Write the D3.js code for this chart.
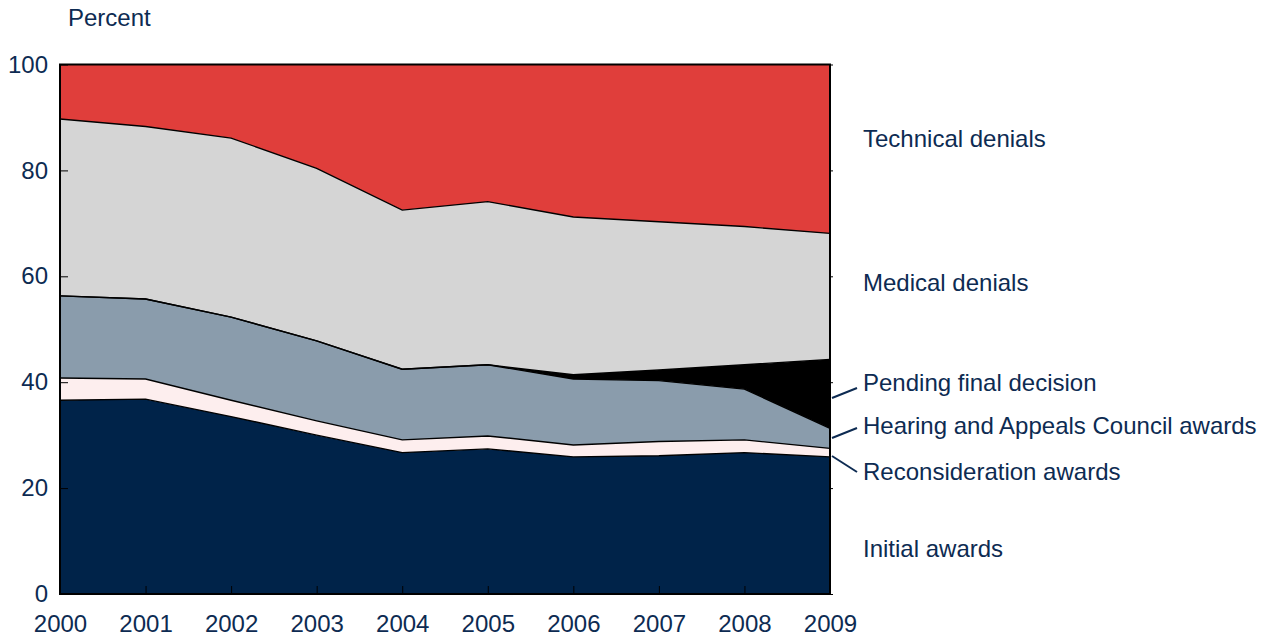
<!DOCTYPE html>
<html>
<head>
<meta charset="utf-8">
<script src="https://cdn.jsdelivr.net/npm/d3@7"></script>
<style>
  body { margin: 0; background: #fff; }
  svg { display: block; }
  text { font-family: "Liberation Sans", Arial, sans-serif; fill: #0d2b52; }
</style>
</head>
<body>
<svg id="chart" width="1268" height="637"></svg>
<script>
const years = [2000, 2001, 2002, 2003, 2004, 2005, 2006, 2007, 2008, 2009];
const initialAwards = [36.6, 36.8, 33.5, 30.0, 26.7, 27.4, 25.9, 26.1, 26.7, 25.9];
const reconsiderationAwards = [4.2, 3.8, 3.1, 2.7, 2.4, 2.45, 2.25, 2.7, 2.4, 1.6];
const hearingAwards = [15.5, 15.1, 15.7, 15.1, 13.35, 13.45, 12.45, 11.5, 9.6, 3.8];
const pendingDecision = [0, 0, 0, 0, 0, 0, 0.8, 2.0, 4.6, 13.0];
const medicalDenials = [33.4, 32.6, 33.8, 32.6, 30.05, 30.8, 29.8, 28.0, 26.1, 23.8];
const technicalDenials = [10.3, 11.7, 13.9, 19.6, 27.5, 25.9, 28.8, 29.7, 30.6, 31.9];
const yTicks = [0, 20, 40, 60, 80, 100];

const seriesKeys = ["initial", "recon", "hearing", "pending", "medical", "technical"];
const seriesData = {
  initial: initialAwards, recon: reconsiderationAwards, hearing: hearingAwards,
  pending: pendingDecision, medical: medicalDenials, technical: technicalDenials
};
const colors = {
  initial: "#002349", recon: "#fdeeee", hearing: "#8a9cac",
  pending: "#000000", medical: "#d5d5d5", technical: "#e03e3b"
};

const rows = years.map((yr, i) => {
  const r = { year: yr };
  seriesKeys.forEach(k => r[k] = seriesData[k][i]);
  return r;
});
const stacked = d3.stack().keys(seriesKeys)(rows);

const svg = d3.select("#chart");
const m = { left: 60, right: 830, top: 64.5, bottom: 594 };
const x = d3.scaleLinear().domain([2000, 2009]).range([m.left, m.right]);
const y = d3.scaleLinear().domain([0, 100]).range([m.bottom, m.top]);

const area = d3.area()
  .x(d => x(d.data.year))
  .y0(d => y(d[0]))
  .y1(d => y(Math.min(100, d[1])));
const line = d3.line()
  .x(d => x(d.data.year))
  .y(d => y(Math.min(100, d[1])));

svg.append("g").selectAll("path.area").data(stacked).join("path")
  .attr("class", "area")
  .attr("d", area)
  .attr("fill", d => colors[d.key]);

svg.append("g").selectAll("path.line").data(stacked.slice(0, 5)).join("path")
  .attr("d", line)
  .attr("fill", "none")
  .attr("stroke", "#000")
  .attr("stroke-width", 1.4);

// frame
svg.append("rect")
  .attr("x", m.left).attr("y", m.top)
  .attr("width", m.right - m.left).attr("height", m.bottom - m.top)
  .attr("fill", "none").attr("stroke", "#000").attr("stroke-width", 2);

// left axis (inward ticks)
const yAxis = d3.axisLeft(y).tickValues(yTicks).tickSize(-8).tickPadding(12);
const gy = svg.append("g").attr("transform", `translate(${m.left},0)`).call(yAxis);
gy.select(".domain").remove();
gy.selectAll(".tick line").attr("stroke", "#000").attr("stroke-width", 1);
gy.selectAll(".tick text").attr("font-size", 24).attr("x", -12)
  .style("font-family", "Liberation Sans, Arial, sans-serif").attr("fill", "#0d2b52");

// right axis small ticks
const yAxisR = d3.axisRight(y).tickValues(yTicks).tickSize(3).tickFormat("");
const gyr = svg.append("g").attr("transform", `translate(${m.right},0)`).call(yAxisR);
gyr.select(".domain").remove();
gyr.selectAll(".tick line").attr("stroke", "#000");

// bottom axis (inward ticks)
const xAxis = d3.axisBottom(x).tickValues(years).tickFormat(d3.format("d")).tickSize(-8).tickPadding(21);
const gx = svg.append("g").attr("transform", `translate(0,${m.bottom})`).call(xAxis);
gx.select(".domain").remove();
gx.selectAll(".tick line").attr("stroke", "#000").attr("stroke-width", 1);
gx.selectAll(".tick text").attr("font-size", 24).attr("y", 21)
  .style("font-family", "Liberation Sans, Arial, sans-serif").attr("fill", "#0d2b52");

svg.append("text").attr("x", 68).attr("y", 26).attr("font-size", 24).text("Percent");

// labels
const labels = [
  { text: "Technical denials", y: 139 },
  { text: "Medical denials", y: 283 },
  { text: "Pending final decision", y: 383 },
  { text: "Hearing and Appeals Council awards", y: 426 },
  { text: "Reconsideration awards", y: 472 },
  { text: "Initial awards", y: 549 }
];
svg.append("g").selectAll("text").data(labels).join("text")
  .attr("x", 863).attr("y", d => d.y)
  .attr("dy", "0.35em")
  .attr("font-size", 24)
  .text(d => d.text);

// leader lines
const leaders = [
  [832, 398, 857, 388],
  [832, 438, 857, 428],
  [832, 456, 857, 472]
];
svg.append("g").selectAll("line").data(leaders).join("line")
  .attr("x1", d => d[0]).attr("y1", d => d[1])
  .attr("x2", d => d[2]).attr("y2", d => d[3])
  .attr("stroke", "#0d2b52").attr("stroke-width", 2);
</script>
</body>
</html>
